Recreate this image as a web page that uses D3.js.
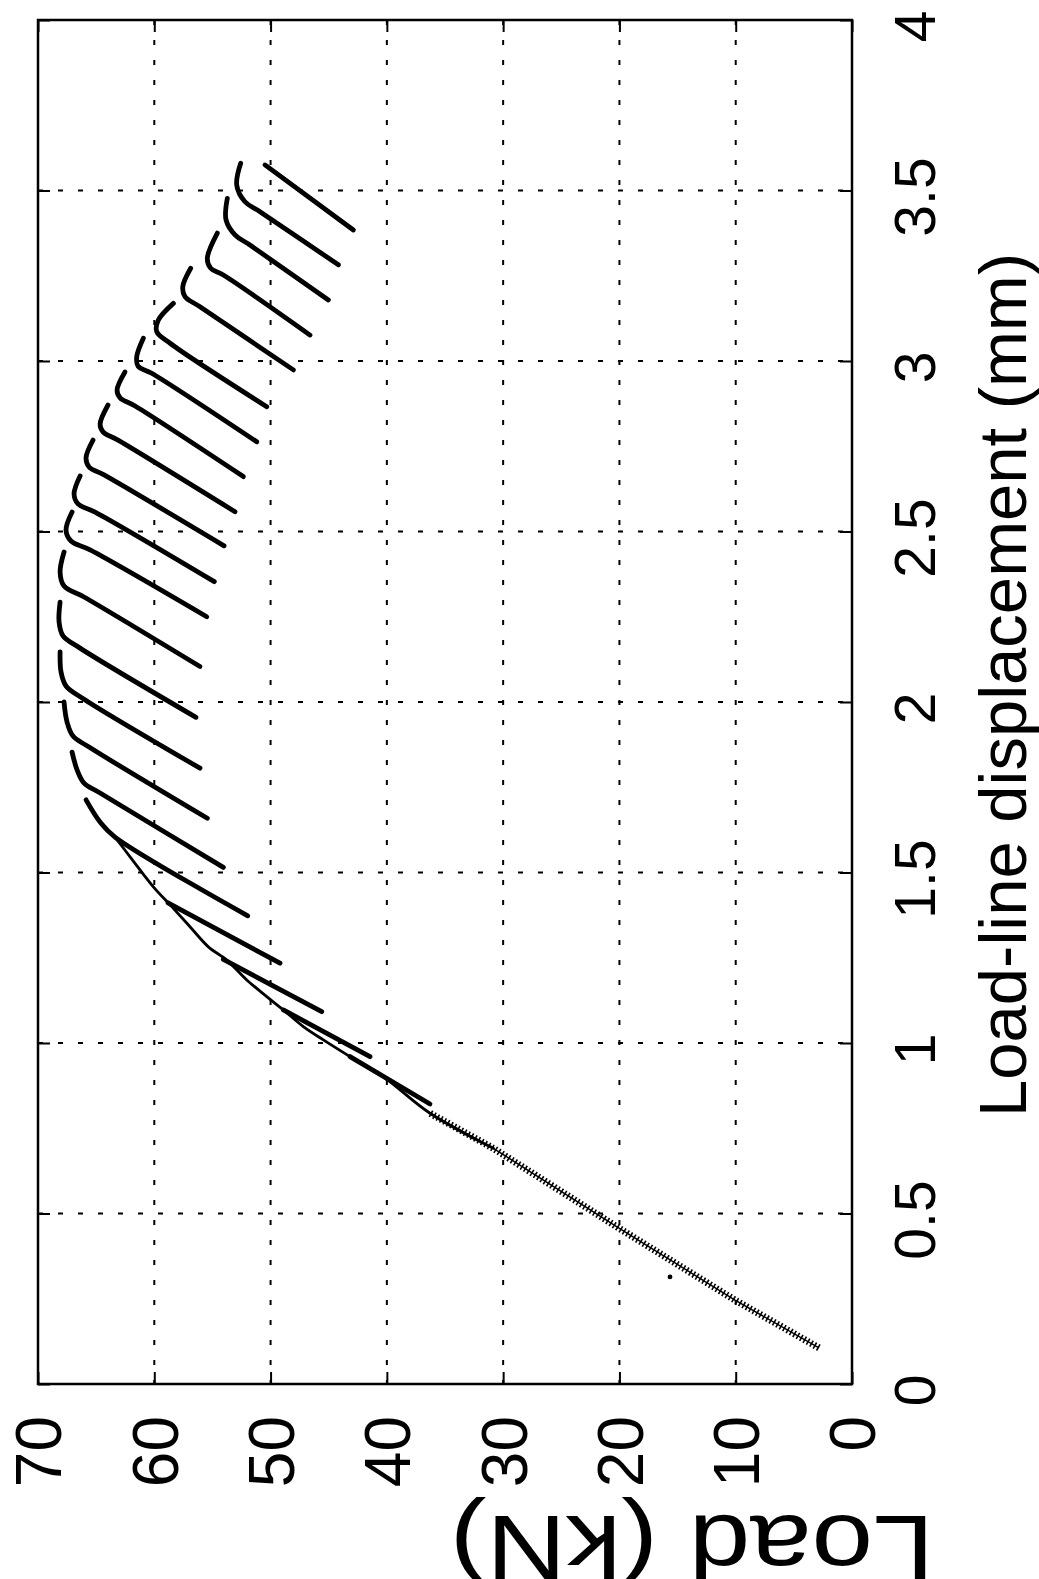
<!DOCTYPE html>
<html>
<head>
<meta charset="utf-8">
<script src="https://cdn.jsdelivr.net/npm/d3@7"></script>
<style>
  body { margin: 0; background: #fff; }
  svg { display: block; font-family: "Liberation Sans", Arial, Helvetica, sans-serif; }
</style>
</head>
<body>
<div id="chart"></div>
<script>
// axis ticks
const loadTicks = [0, 10, 20, 30, 40, 50, 60, 70]
const dispTicks = [0, 0.5, 1, 1.5, 2, 2.5, 3, 3.5, 4]

// initial elastic ramp (plotted as a dense marker trace)
const rampDisp = [0.106, 0.246, 0.457, 0.691, 0.794]
const rampLoad = [2.84, 10.06, 20.04, 30.84, 36.29]

// loading envelope before the peak (thin trace)
const envDisp = [0.691, 0.794, 0.901, 0.960, 1.009, 1.048, 1.097, 1.136, 1.185, 1.243,
  1.282, 1.341, 1.400, 1.458, 1.546, 1.604]
const envLoad = [30.84, 36.29, 40.30, 43.17, 45.46, 47.18, 48.90, 50.33, 52.05, 53.77,
  55.35, 56.93, 58.50, 60.08, 62.08, 63.38]

// unload / reload cycles: bottom, knee, ..., top of each stroke
const cycleDisp = [
  [3.384, 3.575],
  [3.282, 3.438, 3.467, 3.516, 3.580],
  [3.179, 3.340, 3.370, 3.414, 3.477],
  [3.076, 3.252, 3.272, 3.301, 3.375],
  [2.974, 3.159, 3.189, 3.218, 3.272],
  [2.866, 3.052, 3.086, 3.120, 3.169],
  [2.763, 2.964, 2.985, 3.013, 3.067],
  [2.661, 2.868, 2.892, 2.915, 2.968],
  [2.558, 2.768, 2.792, 2.815, 2.871],
  [2.458, 2.666, 2.689, 2.716, 2.768],
  [2.353, 2.557, 2.581, 2.610, 2.663],
  [2.250, 2.446, 2.472, 2.504, 2.557],
  [2.104, 2.308, 2.340, 2.381, 2.440],
  [1.955, 2.158, 2.194, 2.235, 2.293],
  [1.806, 2.012, 2.047, 2.088, 2.147],
  [1.659, 1.868, 1.900, 1.941, 2.000],
  [1.515, 1.733, 1.762, 1.801, 1.853],
  [1.373, 1.604, 1.648, 1.713],
  [1.234, 1.411],
  [1.092, 1.245],
  [0.960, 1.097],
  [0.821, 0.960]
]
const cycleLoad = [
  [42.88, 50.48],
  [44.17, 50.91, 52.20, 52.91, 52.57],
  [45.03, 51.77, 53.06, 53.83, 53.72],
  [46.61, 54.06, 55.15, 55.44, 54.58],
  [48.04, 56.07, 57.36, 57.55, 56.87],
  [50.33, 58.64, 59.79, 59.65, 58.36],
  [51.19, 60.22, 61.40, 61.51, 60.94],
  [52.34, 61.65, 62.94, 63.20, 62.52],
  [53.06, 63.12, 64.41, 64.66, 63.98],
  [54.00, 64.32, 65.61, 65.87, 65.27],
  [54.84, 65.09, 66.56, 66.90, 66.38],
  [55.49, 65.52, 67.16, 67.59, 67.07],
  [56.07, 66.04, 67.76, 68.10, 67.76],
  [56.41, 66.38, 67.85, 68.19, 68.10],
  [56.07, 66.21, 67.59, 68.02, 68.10],
  [55.44, 65.61, 66.99, 67.50, 67.76],
  [54.06, 64.66, 66.04, 66.64, 67.07],
  [51.96, 63.38, 64.66, 65.87],
  [49.19, 58.82],
  [45.60, 54.06],
  [41.45, 48.90],
  [36.29, 43.17]
]

// stray point
const spotDisp = [0.314]
const spotLoad = [15.65]

const W = 1039
const H = 1579

// the figure is printed rotated: load runs right-to-left, displacement bottom-to-top
const x = d3.scaleLinear().domain([0, 70]).range([852, 38])
const y = d3.scaleLinear().domain([0, 4]).range([1384, 20])

const svg = d3.select('#chart').append('svg')
  .attr('width', W)
  .attr('height', H)

svg.append('rect').attr('width', W).attr('height', H).attr('fill', '#fff')

// grid
const grid = svg.append('g')
  .attr('stroke', '#000')
  .attr('stroke-width', 2)
  .attr('stroke-dasharray', '5,15')

grid.selectAll('line.gx')
  .data(loadTicks.filter(d => d > 0 && d < 70))
  .join('line')
  .attr('x1', d => x(d)).attr('x2', d => x(d))
  .attr('y1', y(4)).attr('y2', y(0))

grid.selectAll('line.gy')
  .data(dispTicks.filter(d => d > 0 && d < 4))
  .join('line')
  .attr('class', 'gy')
  .attr('x1', x(70)).attr('x2', x(0))
  .attr('y1', d => y(d)).attr('y2', d => y(d))

// axes, ticks inside the box
const tickLen = 12
const bottom = svg.append('g')
  .attr('transform', `translate(0,${y(0)})`)
  .call(d3.axisBottom(x).tickValues(loadTicks).tickSize(-tickLen).tickSizeOuter(0))
const right = svg.append('g')
  .attr('transform', `translate(${x(0)},0)`)
  .call(d3.axisRight(y).tickValues(dispTicks).tickSize(-tickLen).tickSizeOuter(0)
    .tickFormat(d => String(d)))
svg.append('g')
  .attr('transform', `translate(0,${y(4)})`)
  .call(d3.axisTop(x).tickValues(loadTicks).tickSize(-tickLen).tickSizeOuter(0).tickFormat(''))
svg.append('g')
  .attr('transform', `translate(${x(70)},0)`)
  .call(d3.axisLeft(y).tickValues(dispTicks).tickSize(-tickLen).tickSizeOuter(0).tickFormat(''))

svg.selectAll('.domain').remove()
svg.selectAll('.tick line').attr('stroke', '#000').attr('stroke-width', 2)

const loadFont = 64
bottom.selectAll('.tick text')
  .attr('x', 0).attr('y', 0).attr('dy', 0)
  .attr('text-anchor', 'end')
  .attr('fill', '#000')
  .style('font-size', loadFont + 'px')
  .attr('transform', `translate(${0.358 * loadFont},32) rotate(-90)`)

const dispFont = 57
right.selectAll('.tick text')
  .attr('x', 0).attr('y', 0).attr('dy', 0)
  .attr('text-anchor', 'middle')
  .attr('fill', '#000')
  .style('font-size', dispFont + 'px')
  .attr('transform', 'translate(83,6) rotate(-90)')

// frame
svg.append('rect')
  .attr('x', x(70)).attr('y', y(4))
  .attr('width', x(0) - x(70)).attr('height', y(0) - y(4))
  .attr('fill', 'none')
  .attr('stroke', '#000')
  .attr('stroke-width', 2.5)

// data
const plot = svg.append('g').attr('fill', 'none').attr('stroke', '#000')

const straight = d3.line().x(d => x(d[1])).y(d => y(d[0]))
const smooth = d3.line().x(d => x(d[1])).y(d => y(d[0])).curve(d3.curveCatmullRom.alpha(0.5))

plot.append('path')
  .attr('d', straight(d3.zip(rampDisp, rampLoad)))
  .attr('stroke-width', 7)
  .attr('stroke-dasharray', '1.6,2.3')

plot.append('path')
  .attr('d', straight(d3.zip(rampDisp, rampLoad)))
  .attr('stroke-width', 1.4)

plot.append('path')
  .attr('d', smooth(d3.zip(envDisp, envLoad)))
  .attr('stroke-width', 2.8)
  .attr('stroke-linecap', 'round')

plot.selectAll('path.cycle')
  .data(cycleDisp.map((ds, i) => d3.zip(ds, cycleLoad[i])))
  .join('path')
  .attr('class', 'cycle')
  .attr('d', d => smooth(d))
  .attr('stroke-width', 4.8)
  .attr('stroke-linecap', 'round')
  .attr('stroke-linejoin', 'round')

svg.selectAll('circle.spot')
  .data(d3.zip(spotDisp, spotLoad))
  .join('circle')
  .attr('class', 'spot')
  .attr('cx', d => x(d[1])).attr('cy', d => y(d[0]))
  .attr('r', 2.4)
  .attr('fill', '#000')

// axis titles
svg.append('text')
  .attr('transform', `translate(1026,${(y(0) + y(4)) / 2 - 17}) rotate(-90)`)
  .attr('text-anchor', 'middle')
  .style('font-size', '67px')
  .text('Load-line displacement (mm)')

svg.append('text')
  .attr('transform', 'translate(692,1516) scale(1.2,1) rotate(180)')
  .attr('text-anchor', 'middle')
  .style('font-size', '92px')
  .text('Load (kN)')
</script>
</body>
</html>
